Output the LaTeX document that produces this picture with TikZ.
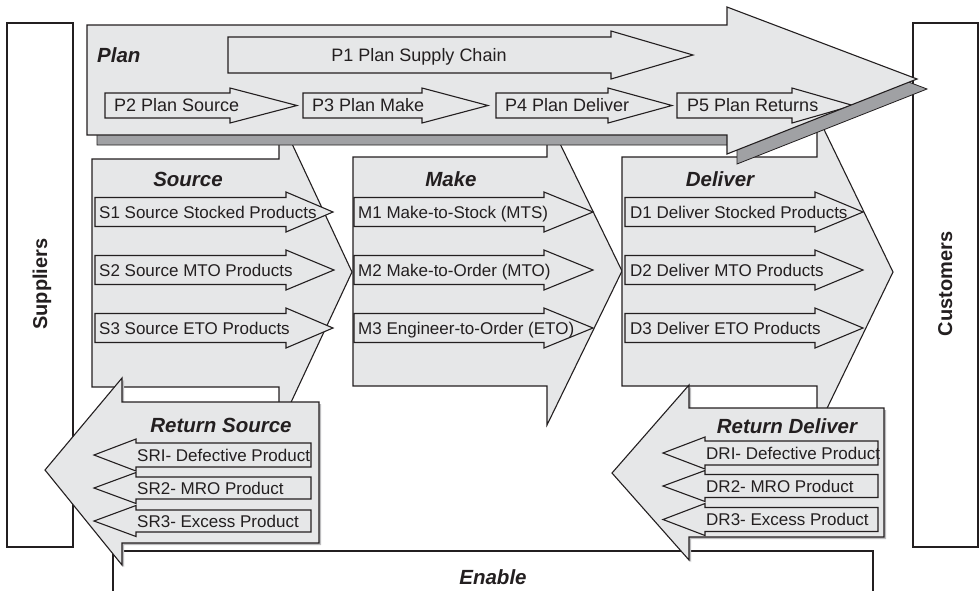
\documentclass[tikz,border=0pt]{standalone}
\usepackage{fontspec}
\setmainfont{Liberation Sans}
\definecolor{afill}{RGB}{230,231,232}
\definecolor{ashadow}{RGB}{160,161,164}
\definecolor{aline}{RGB}{35,31,32}
\tikzset{
  blockfill/.style={fill=afill, draw=aline, line width=1.1pt, line join=miter},
  shadowfill/.style={fill=ashadow, draw=aline, line width=0.8pt},
  lightshadow/.style={fill=ashadow!70, draw=none},
  sidebox/.style={fill=white, draw=aline, line width=1.1pt},
  sidetext/.style={font=\fontsize{20pt}{22pt}\selectfont\bfseries, inner sep=0pt, text height=14.3pt, text depth=0pt, text=aline},
  titletext/.style={font=\fontsize{20.5pt}{22pt}\selectfont\bfseries\itshape, inner sep=0pt, text height=14.7pt, text depth=0pt, text=aline},
  ptext/.style={font=\fontsize{18pt}{20pt}\selectfont, inner sep=0pt, text height=12.9pt, text depth=0pt, anchor=west, text=aline},
  itext/.style={font=\fontsize{17pt}{19pt}\selectfont, inner sep=0pt, text height=12.2pt, text depth=0pt, anchor=west, text=aline},
}
% right-pointing arrow: left, head start, tip, yc, body half, head half
\newcommand{\RArrow}[6]{%
  \filldraw[blockfill] ({#1},{#4-#5}) -- ({#2},{#4-#5}) -- ({#2},{#4-#6}) -- ({#3},{#4}) -- ({#2},{#4+#6}) -- ({#2},{#4+#5}) -- ({#1},{#4+#5}) -- cycle;}
% left-pointing arrow: right, head start, tip, yc, body half, head half
\newcommand{\LArrow}[6]{%
  \filldraw[blockfill] ({#1},{#4-#5}) -- ({#2},{#4-#5}) -- ({#2},{#4-#6}) -- ({#3},{#4}) -- ({#2},{#4+#6}) -- ({#2},{#4+#5}) -- ({#1},{#4+#5}) -- cycle;}
\begin{document}
\begin{tikzpicture}[x=1pt,y=-1pt]
\useasboundingbox (0,0) rectangle (979,590);

% side boxes
\draw[sidebox] (7,23) rectangle (73,547);
\node[sidetext, rotate=90] (sup) at (40,284) {Suppliers};
\draw[sidebox] (913,23) rectangle (978,547);
\node[sidetext, rotate=90] (cus) at (945,284) {Customers};

% enable
\filldraw[sidebox] (113,600) -- (113,551) -- (873,551) -- (873,600);
\node[titletext] (enable) at (493,577) {Enable};

% source / make / deliver
\filldraw[blockfill] (92,159) -- (279,159) -- (279,116) -- (352,272) -- (279,428) -- (279,387) -- (92,387) -- cycle;
\filldraw[blockfill] (353,157) -- (547,157) -- (547,117) -- (622,271) -- (547,425) -- (547,386) -- (353,386) -- cycle;
\filldraw[blockfill] (622,157) -- (817,157) -- (817,115) -- (893,272) -- (817,429) -- (817,386) -- (622,386) -- cycle;
\node[titletext] (source) at (188,179) {Source};
\node[titletext] (make) at (451,179) {Make};
\node[titletext] (deliver) at (720,179) {Deliver};

\RArrow{95}{286}{333}{212}{14.5}{20}
\RArrow{95}{286}{334}{270}{14.5}{20}
\RArrow{95}{286}{333}{328}{14.5}{20}
\node[itext] (s1) at (99,212) {S1 Source Stocked Products};
\node[itext] (s2) at (99,270) {S2 Source MTO Products};
\node[itext] (s3) at (99,328) {S3 Source ETO Products};

\RArrow{354}{544}{593}{212}{14.5}{20}
\RArrow{354}{544}{593}{270}{14.5}{20}
\RArrow{354}{544}{593}{328}{14.5}{20}
\node[itext] (m1) at (358,212) {M1 Make-to-Stock (MTS)};
\node[itext] (m2) at (358,270) {M2 Make-to-Order (MTO)};
\node[itext] (m3) at (358,328) {M3 Engineer-to-Order (ETO)};

\RArrow{625}{815}{863}{212}{14.5}{20}
\RArrow{625}{815}{863}{270}{14.5}{20}
\RArrow{625}{815}{863}{328}{14.5}{20}
\node[itext] (d1) at (630,212) {D1 Deliver Stocked Products};
\node[itext] (d2) at (630,270) {D2 Deliver MTO Products};
\node[itext] (d3) at (630,328) {D3 Deliver ETO Products};

% plan
\filldraw[shadowfill, shift={(10,10)}] (87,25) -- (727,25) -- (727,7) -- (917,79) -- (727,154) -- (727,135) -- (87,135) -- cycle;
\fill[afill] (87,25) -- (727,25) -- (727,7) -- (917,79) -- (727,154) -- (727,135) -- (87,135) -- cycle;
\begin{scope}
  \clip (87,25) -- (727,25) -- (727,7) -- (917,79) -- (727,154) -- (727,135) -- (87,135) -- cycle;
  \RArrow{228}{611}{693}{55}{18}{24}
  \RArrow{105}{230}{297}{105.5}{12.5}{17.5}
  \RArrow{303}{422}{488}{105.5}{12.5}{17.5}
  \RArrow{496}{608}{672}{105.5}{12.5}{17.5}
  \RArrow{677}{792}{853}{105.5}{12.5}{17.5}
\end{scope}
\draw[draw=aline, line width=1.1pt, line join=miter] (87,25) -- (727,25) -- (727,7) -- (917,79) -- (727,154) -- (727,135) -- (87,135) -- cycle;
\node[titletext, anchor=west] (plan) at (97,55) {Plan};
\node[ptext, anchor=center] (p1) at (419,55) {P1 Plan Supply Chain};
\node[ptext] (p2) at (114,105.5) {P2 Plan Source};
\node[ptext] (p3) at (312,105.5) {P3 Plan Make};
\node[ptext] (p4) at (505,105.5) {P4 Plan Deliver};
\node[ptext] (p5) at (687,105.5) {P5 Plan Returns};

% return source
\fill[lightshadow, shift={(2,2)}] (122,402) -- (319,402) -- (319,543) -- (122,543) -- (122,565) -- (45,470) -- (122,378) -- cycle;
\filldraw[blockfill] (122,402) -- (319,402) -- (319,543) -- (122,543) -- (122,565) -- (45,470) -- (122,378) -- cycle;
\node[titletext] (rs) at (221,425) {Return Source};
\LArrow{311}{136}{94}{455}{12}{16}
\LArrow{311}{136}{94}{488}{11}{15.5}
\LArrow{311}{136}{94}{521}{11}{15.5}
\node[itext] (sr1) at (137,455) {SRI- Defective Product};
\node[itext] (sr2) at (137,488) {SR2- MRO Product};
\node[itext] (sr3) at (137,521) {SR3- Excess Product};

% return deliver
\fill[lightshadow, shift={(2,2)}] (689,408) -- (884,408) -- (884,537) -- (689,537) -- (689,560) -- (612,473) -- (689,385) -- cycle;
\filldraw[blockfill] (689,408) -- (884,408) -- (884,537) -- (689,537) -- (689,560) -- (612,473) -- (689,385) -- cycle;
\node[titletext] (rd) at (787,426) {Return Deliver};
\LArrow{878}{705}{663}{453}{12}{16}
\LArrow{878}{705}{663}{486}{11.5}{15.5}
\LArrow{878}{705}{663}{519.5}{12}{16}
\node[itext] (dr1) at (706,453) {DRI- Defective Product};
\node[itext] (dr2) at (706,486) {DR2- MRO Product};
\node[itext] (dr3) at (706,519.5) {DR3- Excess Product};
\end{tikzpicture}
\end{document}
